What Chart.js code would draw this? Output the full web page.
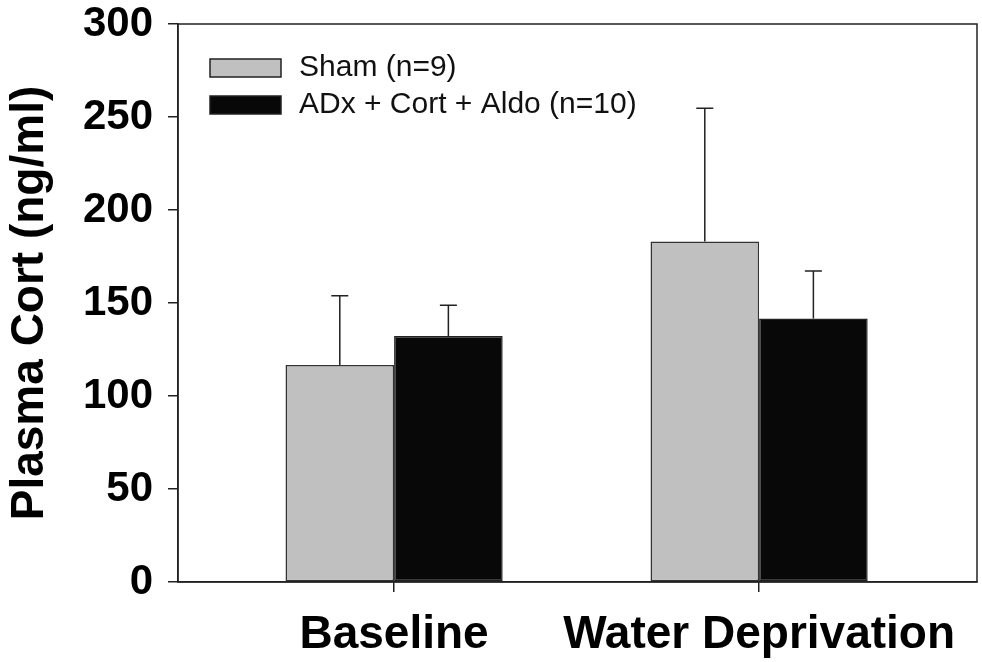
<!DOCTYPE html>
<html>
<head>
<meta charset="utf-8">
<script src="https://cdn.jsdelivr.net/npm/chart.js@4"></script>
<style>
  body { margin: 0; background: #fff; }
  #grafico { display: block; }
</style>
</head>
<body>
<canvas id="grafico" width="982" height="662"></canvas>
<script>
const categorias = ["Baseline", "Water Deprivation"];
const posicoes = [1, 2];
const nomes = ["Sham (n=9)", "ADx + Cort + Aldo (n=10)"];
const shamValores = [116.7, 183.0];
const shamErros = [37.2, 71.7];
const adxValores = [132.3, 141.6];
const adxErros = [16.5, 25.6];
const yTicks = [0, 50, 100, 150, 200, 250, 300];

const fonte = "'Liberation Sans', Arial, sans-serif";

// moldura em volta da area do grafico
const moldura = {
  id: "moldura",
  afterDraw(chart) {
    const a = chart.chartArea;
    const ctx = chart.ctx;
    ctx.save();
    ctx.strokeStyle = "#222";
    ctx.lineWidth = 1.5;
    ctx.strokeRect(a.left, a.top, a.right - a.left, a.bottom - a.top);
    ctx.restore();
  }
};

// barras de erro (so para cima)
const barrasErro = {
  id: "barrasErro",
  afterDatasetsDraw(chart) {
    const ctx = chart.ctx;
    const y = chart.scales.y;
    ctx.save();
    ctx.strokeStyle = "#222";
    ctx.lineWidth = 1.5;
    chart.data.datasets.forEach(function(ds, i) {
      const meta = chart.getDatasetMeta(i);
      meta.data.forEach(function(bar, j) {
        const topo = y.getPixelForValue(ds.data[j].y + ds.erros[j]);
        ctx.beginPath();
        ctx.moveTo(bar.x, bar.y);
        ctx.lineTo(bar.x, topo);
        ctx.moveTo(bar.x - 8.5, topo);
        ctx.lineTo(bar.x + 8.5, topo);
        ctx.stroke();
      });
    });
    ctx.restore();
  }
};

// legenda dentro da area do grafico
const legenda = {
  id: "legenda",
  afterDraw(chart) {
    const ctx = chart.ctx;
    const a = chart.chartArea;
    ctx.save();
    ctx.font = "30px " + fonte;
    ctx.textBaseline = "middle";
    chart.data.datasets.forEach(function(ds, i) {
      const x = a.left + 32;
      const y = a.top + 35 + i * 37;
      ctx.fillStyle = ds.backgroundColor;
      ctx.fillRect(x, y, 71, 18);
      ctx.strokeStyle = "#222";
      ctx.lineWidth = 1.5;
      ctx.strokeRect(x, y, 71, 18);
      ctx.fillStyle = "#111";
      ctx.fillText(ds.label, x + 89, y + 9);
    });
    ctx.restore();
  }
};

function pontos(valores) {
  return valores.map(function(v, i) { return { x: posicoes[i], y: v }; });
}

new Chart(document.getElementById("grafico"), {
  type: "bar",
  data: {
    datasets: [
      {
        label: nomes[0],
        data: pontos(shamValores),
        erros: shamErros,
        backgroundColor: "#c0c0c0",
        borderColor: "#333",
        borderWidth: 1.5,
        borderSkipped: false
      },
      {
        label: nomes[1],
        data: pontos(adxValores),
        erros: adxErros,
        backgroundColor: "#080808",
        borderColor: "#222",
        borderWidth: 1.5,
        borderSkipped: false
      }
    ]
  },
  options: {
    responsive: false,
    animation: false,
    categoryPercentage: 0.595,
    barPercentage: 1.0,
    layout: { padding: { top: 24, right: 5, left: 0, bottom: 0 } },
    plugins: {
      legend: { display: false },
      tooltip: { enabled: false }
    },
    scales: {
      x: {
        type: "linear",
        offset: false,
        min: 0.408,
        max: 2.597,
        afterBuildTicks: function(scale) {
          scale.ticks = posicoes.map(function(p) { return { value: p }; });
        },
        afterFit: function(scale) {
          scale.height = 80;
          scale.paddingLeft = 0;
          scale.paddingRight = 0;
        },
        ticks: {
          color: "#000",
          padding: 16,
          maxRotation: 0,
          autoSkip: false,
          font: { family: fonte, size: 46, weight: "bold" },
          callback: function(v) { return categorias[posicoes.indexOf(v)]; }
        },
        grid: { offset: false, drawOnChartArea: false, drawTicks: true, tickLength: 10, color: "#222", lineWidth: 1.5 },
        border: { display: true, color: "#222", width: 1.5 }
      },
      y: {
        min: 0,
        max: 300,
        afterBuildTicks: function(scale) {
          scale.ticks = yTicks.map(function(v) { return { value: v }; });
        },
        afterFit: function(scale) {
          scale.width = 178;
          scale.paddingTop = 0;
          scale.paddingBottom = 0;
        },
        ticks: {
          color: "#000",
          padding: 15,
          font: { family: fonte, size: 42, weight: "bold" }
        },
        grid: { drawOnChartArea: false, drawTicks: true, tickLength: 10, color: "#222", lineWidth: 1.5 },
        border: { display: true, color: "#222", width: 1.5 },
        title: {
          display: true,
          text: "Plasma Cort (ng/ml)",
          color: "#000",
          padding: { top: 3, bottom: 4 },
          font: { family: fonte, size: 46, weight: "bold" }
        }
      }
    }
  },
  plugins: [moldura, barrasErro, legenda]
});
</script>
</body>
</html>
